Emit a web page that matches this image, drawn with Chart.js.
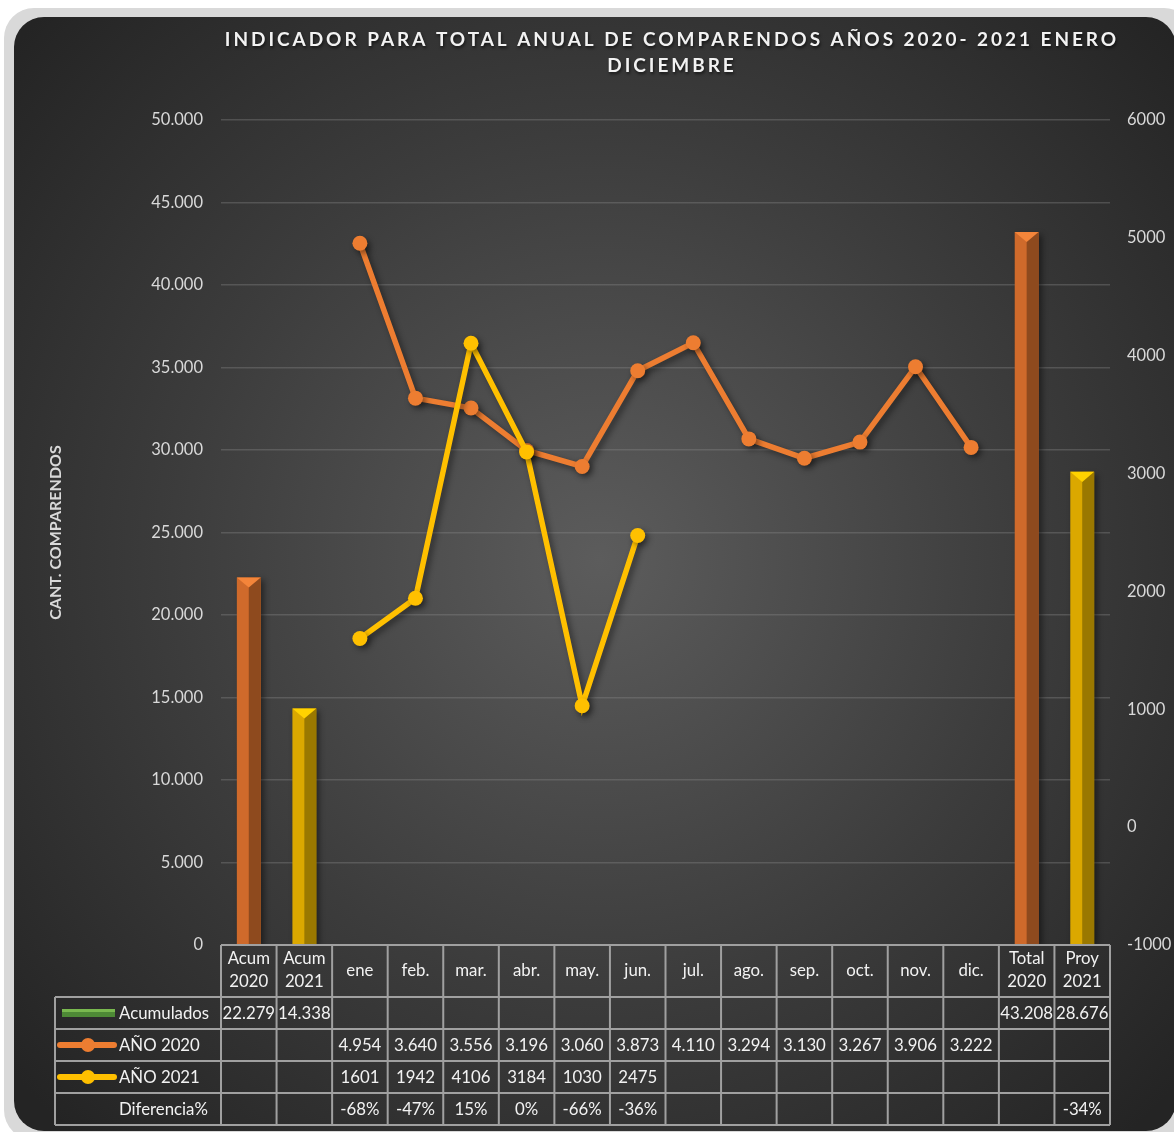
<!DOCTYPE html>
<html>
<head>
<meta charset="utf-8">
<script src="https://cdn.jsdelivr.net/npm/chart.js@4.4.1/dist/chart.umd.min.js"></script>
<style>
  html, body { margin: 0; padding: 0; background: #ffffff; }
  #wrap { width: 1174px; height: 1132px; position: relative; }
</style>
</head>
<body>
<div id="wrap"><canvas id="c" width="1174" height="1132"></canvas></div>
<script>
// data
var categories = [['Acum', '2020'], ['Acum', '2021'], 'ene', 'feb.', 'mar.', 'abr.', 'may.', 'jun.',
    'jul.', 'ago.', 'sep.', 'oct.', 'nov.', 'dic.', ['Total', '2020'], ['Proy', '2021']];
var acumulados = [22279, 14338, null, null, null, null, null, null, null, null, null, null, null, null, 43208, 28676];
var anio2020 = [null, null, 4954, 3640, 3556, 3196, 3060, 3873, 4110, 3294, 3130, 3267, 3906, 3222, null, null];
var anio2021 = [null, null, 1601, 1942, 4106, 3184, 1030, 2475, null, null, null, null, null, null, null, null];
var diferencia = ['', '', '-68%', '-47%', '15%', '0%', '-66%', '-36%', '', '', '', '', '', '', '', '-34%'];
var titleLines = ['INDICADOR PARA TOTAL ANUAL DE COMPARENDOS AÑOS 2020- 2021 ENERO', 'DICIEMBRE'];
var axisTitle = 'CANT. COMPARENDOS';

var FONT = 'Lato, "Open Sans", sans-serif';
var ORANGE = '#ed7d31', YELLOW = '#ffc000';
var barLeft = ['#cf6a2b', '#dba800'], barRight = ['#8e4a1e', '#9a7800'], barCap = ['#f4853a', '#ffd200'];

function fmtDots(v) {
    return String(v).replace(/\B(?=(\d{3})+(?!\d))/g, '.');
}

function roundRect(ctx, x, y, w, h, r) {
    ctx.beginPath();
    ctx.moveTo(x + r, y);
    ctx.arcTo(x + w, y, x + w, y + h, r);
    ctx.arcTo(x + w, y + h, x, y + h, r);
    ctx.arcTo(x, y + h, x, y, r);
    ctx.arcTo(x, y, x + w, y, r);
    ctx.closePath();
}

var backdrop = {
    id: 'backdrop',
    beforeDraw: function(chart) {
        var ctx = chart.ctx;
        ctx.save();
        ctx.fillStyle = '#ffffff';
        ctx.fillRect(0, 0, chart.width, chart.height);
        roundRect(ctx, 4, 8, 1190, 1132, 30);
        ctx.fillStyle = '#d9d9d9';
        ctx.fill();
        roundRect(ctx, 14, 17, 1162, 1114, 30);
        var g = ctx.createRadialGradient(600, 560, 0, 600, 560, 780);
        g.addColorStop(0, '#5c5c5c');
        g.addColorStop(0.55, '#3c3c3c');
        g.addColorStop(1, '#242424');
        ctx.fillStyle = g;
        ctx.fill();
        ctx.restore();
    }
};

var shadows = {
    id: 'shadows',
    beforeDatasetDraw: function(chart, args) {
        var ctx = chart.ctx;
        ctx.save();
        ctx.shadowColor = 'rgba(0,0,0,0.45)';
        ctx.shadowBlur = 6;
        ctx.shadowOffsetX = 3;
        ctx.shadowOffsetY = 3;
    },
    afterDatasetDraw: function(chart, args) {
        var ctx = chart.ctx;
        ctx.restore();
        if (args.meta.type !== 'bar') return;
        // 3D look: darker right face and pointed cap
        args.meta.data.forEach(function(el, i) {
            if (acumulados[i] == null) return;
            var k = (i % 2 === 0) ? 0 : 1;
            var p = el.getProps(['x', 'y', 'base', 'width'], true);
            var w = p.width;
            ctx.fillStyle = barRight[k];
            ctx.fillRect(p.x, p.y, w / 2, p.base - p.y);
            ctx.beginPath();
            ctx.moveTo(p.x - w / 2, p.y);
            ctx.lineTo(p.x + w / 2, p.y);
            ctx.lineTo(p.x, p.y + w * 0.42);
            ctx.closePath();
            ctx.fillStyle = barCap[k];
            ctx.fill();
        });
    }
};

var texts = {
    id: 'texts',
    afterDraw: function(chart) {
        var ctx = chart.ctx;
        var x = chart.scales.x;
        var area = chart.chartArea;
        ctx.save();

        // title
        ctx.fillStyle = '#f2f2f2';
        ctx.font = 'bold 19px ' + FONT;
        ctx.letterSpacing = '2.95px';
        ctx.textAlign = 'center';
        ctx.textBaseline = 'middle';
        ctx.shadowColor = 'rgba(0,0,0,0.6)';
        ctx.shadowBlur = 3;
        ctx.shadowOffsetX = 1;
        ctx.shadowOffsetY = 2;
        ctx.fillText(titleLines[0], 672, 40);
        ctx.fillText(titleLines[1], 672, 66);
        ctx.shadowColor = 'transparent';
        ctx.letterSpacing = '0px';

        // y axis title
        ctx.save();
        ctx.translate(56, (area.top + area.bottom) / 2);
        ctx.rotate(-Math.PI / 2);
        ctx.font = 'bold 16px ' + FONT;
        ctx.fillStyle = '#d9d9d9';
        ctx.fillText(axisTitle, 0, 0);
        ctx.restore();

        // data table
        var n = categories.length;
        var colW = (x.right - x.left) / n;
        var top = area.bottom;
        var rowsY = [top, top + 52, top + 84, top + 116, top + 148, top + 180];
        var legendL = 55;
        ctx.strokeStyle = '#a0a0a0';
        ctx.lineWidth = 2;
        ctx.beginPath();
        ctx.moveTo(x.left, rowsY[0]); ctx.lineTo(x.right, rowsY[0]);
        for (var r = 1; r < rowsY.length; r++) {
            ctx.moveTo(legendL, rowsY[r]); ctx.lineTo(x.right, rowsY[r]);
        }
        ctx.moveTo(legendL, rowsY[1]); ctx.lineTo(legendL, rowsY[5]);
        for (var i = 0; i <= n; i++) {
            var lx = x.left + i * colW;
            ctx.moveTo(lx, rowsY[0]); ctx.lineTo(lx, rowsY[5]);
        }
        ctx.stroke();

        ctx.fillStyle = '#f2f2f2';
        ctx.font = '16.8px ' + FONT;
        ctx.textAlign = 'center';
        ctx.textBaseline = 'middle';
        var rows = [
            acumulados.map(function(v) { return v == null ? '' : fmtDots(v); }),
            anio2020.map(function(v) { return v == null ? '' : fmtDots(v); }),
            anio2021.map(function(v) { return v == null ? '' : String(v); }),
            diferencia
        ];
        for (var c = 0; c < n; c++) {
            var cx = x.getPixelForValue(c);
            var lab = categories[c];
            if (Array.isArray(lab)) {
                ctx.fillText(lab[0], cx, rowsY[0] + 14);
                ctx.fillText(lab[1], cx, rowsY[0] + 37);
            } else {
                ctx.fillText(lab, cx, (rowsY[0] + rowsY[1]) / 2);
            }
            for (var r2 = 0; r2 < rows.length; r2++) {
                if (rows[r2][c]) ctx.fillText(rows[r2][c], cx, (rowsY[r2 + 1] + rowsY[r2 + 2]) / 2 + 1);
            }
        }

        // legend keys
        var names = chart.data.datasets.map(function(d) { return d.label; });
        names.push('Diferencia%');
        ctx.textAlign = 'left';
        for (var k = 0; k < 4; k++) {
            var cy = (rowsY[k + 1] + rowsY[k + 2]) / 2;
            ctx.fillStyle = '#f2f2f2';
            ctx.fillText(names[k], 119, cy + 1);
        }
        var gy = (rowsY[1] + rowsY[2]) / 2;
        ctx.fillStyle = '#4e8a36';
        ctx.fillRect(62, gy - 4, 53, 8);
        ctx.fillStyle = '#79b94f';
        ctx.fillRect(62, gy - 4, 53, 3);
        [[ORANGE, 2], [YELLOW, 3]].forEach(function(s) {
            var ly = (rowsY[s[1]] + rowsY[s[1] + 1]) / 2;
            ctx.strokeStyle = s[0];
            ctx.lineWidth = 6;
            ctx.lineCap = 'round';
            ctx.beginPath(); ctx.moveTo(60, ly); ctx.lineTo(114, ly); ctx.stroke();
            ctx.fillStyle = s[0];
            ctx.beginPath(); ctx.arc(88, ly, 7, 0, Math.PI * 2); ctx.fill();
        });
        ctx.restore();
    }
};

var chart = new Chart(document.getElementById('c'), {
    type: 'bar',
    data: {
        labels: categories,
        datasets: [
            {
                type: 'bar', label: 'Acumulados', data: acumulados, yAxisID: 'y', order: 2,
                backgroundColor: acumulados.map(function(v, i) { return barLeft[i % 2]; }),
                barPercentage: 0.43, categoryPercentage: 1
            },
            {
                type: 'line', label: 'AÑO 2020', data: anio2020, yAxisID: 'y1', order: 1,
                borderColor: ORANGE, backgroundColor: ORANGE, borderWidth: 5.5,
                pointRadius: 7.5, pointBorderWidth: 0, tension: 0, spanGaps: false
            },
            {
                type: 'line', label: 'AÑO 2021', data: anio2021, yAxisID: 'y1', order: 0,
                borderColor: YELLOW, backgroundColor: YELLOW, borderWidth: 5.5,
                pointRadius: 7.5, pointBorderWidth: 0, tension: 0, spanGaps: false
            }
        ]
    },
    options: {
        responsive: false,
        animation: false,
        events: [],
        layout: { padding: { top: 120, bottom: 187, left: 0, right: 0 } },
        plugins: { legend: { display: false }, title: { display: false }, tooltip: { enabled: false } },
        scales: {
            x: { display: false, offset: true },
            y: {
                position: 'left', min: 0, max: 50000,
                afterFit: function(s) { s.width = 221; },
                border: { display: false },
                grid: { color: 'rgba(140,140,140,0.35)', lineWidth: 1.5, drawTicks: false },
                ticks: {
                    stepSize: 5000, padding: 18, color: '#d9d9d9', font: { family: FONT, size: 16.5 },
                    callback: function(v) { return fmtDots(v); }
                }
            },
            y1: {
                position: 'right', min: -1000, max: 6000,
                afterFit: function(s) { s.width = 64; },
                border: { display: false },
                grid: { display: false, drawTicks: false },
                ticks: {
                    stepSize: 1000, padding: 17, color: '#d9d9d9', font: { family: FONT, size: 16.5 },
                    callback: function(v) { return String(v); }
                }
            }
        }
    },
    plugins: [backdrop, shadows, texts]
});
</script>
</body>
</html>
